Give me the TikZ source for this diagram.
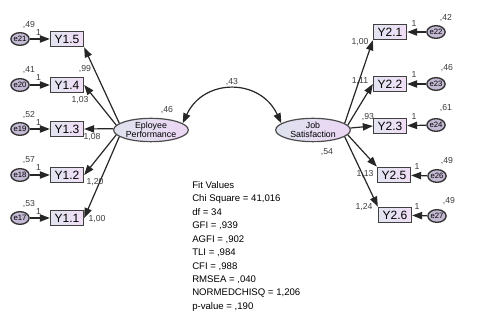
\documentclass[tikz,border=0pt]{standalone}
\usepackage{fontspec}
\setmainfont{Liberation Sans}
\usetikzlibrary{arrows.meta,shapes}

\definecolor{boxlft}{RGB}{226,228,240}
\definecolor{boxrgt}{RGB}{240,222,246}
\definecolor{latlft}{RGB}{222,226,238}
\definecolor{latrgt}{RGB}{236,214,244}
\definecolor{errfill}{RGB}{196,186,212}
\definecolor{numgray}{RGB}{60,60,60}

\begin{document}
\begin{tikzpicture}[x=0.75pt,y=0.75pt,font=\fontsize{9}{10}\selectfont]
\tikzstyle{arc}=[-{Triangle[length=7.5pt,width=5.5pt]},line width=0.9pt,black!85]
\tikzstyle{cov}=[{Triangle[length=7.5pt,width=5.5pt]}-{Triangle[length=7.5pt,width=5.5pt]},line width=0.9pt,black!85]
\tikzstyle{obs}=[rectangle,draw=black!75,line width=1pt,minimum width=24.75pt,minimum height=11.5pt,inner sep=0pt,left color=boxlft,right color=boxrgt]
\tikzstyle{lat}=[ellipse,draw=black!70,line width=0.9pt,minimum width=56pt,minimum height=17.5pt,inner sep=0pt,align=center,font=\fontsize{6.6}{6.8}\selectfont,left color=latlft,right color=latrgt]
\tikzstyle{err}=[ellipse,draw=black!80,line width=1pt,minimum width=13.5pt,minimum height=9.5pt,inner sep=0pt,fill=errfill,font=\fontsize{5.8}{6}\selectfont]
\tikzstyle{val}=[inner sep=0pt,font=\fontsize{6.5}{7}\selectfont,text=numgray]
\useasboundingbox (0,0) rectangle (481,-327);
%% TikZ-figure elements %%
\node[lat] at (151,-130) (EP) {Eployee\\Performance};
\node[lat] at (313,-130) (JS) {Job\\Satisfaction};
\node[obs] at (67,-39) (Y15) {Y1.5};
\node[obs] at (67,-85) (Y14) {Y1.4};
\node[obs] at (67,-129) (Y13) {Y1.3};
\node[obs] at (67,-175) (Y12) {Y1.2};
\node[obs] at (67,-218) (Y11) {Y1.1};
\node[err] at (20,-39) (e21) {e21};
\node[err] at (20,-85) (e20) {e20};
\node[err] at (20,-129) (e19) {e19};
\node[err] at (20,-175) (e18) {e18};
\node[err] at (20,-218) (e17) {e17};
\node[obs] at (390,-32) (Y21) {Y2.1};
\node[obs] at (390,-84) (Y22) {Y2.2};
\node[obs] at (390,-126) (Y23) {Y2.3};
\node[obs] at (394,-175) (Y25) {Y2.5};
\node[obs] at (395,-215) (Y26) {Y2.6};
\node[err] at (436,-32) (e22) {e22};
\node[err] at (436,-84) (e23) {e23};
\node[err] at (436,-125) (e24) {e24};
\node[err] at (437,-176) (e26) {e26};
\node[err] at (437,-216) (e27) {e27};
%% values %%
\node[val] at (29,-25) (v21) {,49};
\node[val] at (38.5,-32.5) (w21) {1};
\node[val] at (29,-70.5) (v20) {,41};
\node[val] at (38.5,-78) (w20) {1};
\node[val] at (29,-115) (v19) {,52};
\node[val] at (38.5,-122.5) (w19) {1};
\node[val] at (29,-160.5) (v18) {,57};
\node[val] at (38.5,-168) (w18) {1};
\node[val] at (29,-204) (v17) {,53};
\node[val] at (38.5,-211.5) (w17) {1};
\node[val] at (85,-69) (l14a) {,99};
\node[val] at (80,-100) (l14) {1,03};
\node[val] at (92,-137) (l13) {1,08};
\node[val] at (95,-182) (l12) {1,20};
\node[val] at (97,-219) (l11) {1,00};
\node[val] at (167,-110) (vEP) {,46};
\node[val] at (232,-82) (cEJ) {,43};
\node[val] at (327,-152) (vJS) {,54};
\node[val] at (360,-42) (l21) {1,00};
\node[val] at (360,-81) (l22) {1,11};
\node[val] at (368,-117) (l23) {,93};
\node[val] at (365,-174) (l25) {1,13};
\node[val] at (364,-207) (l26) {1,24};
\node[val] at (414,-24) (w22) {1};
\node[val] at (446,-18) (v22) {,42};
\node[val] at (414,-75) (w23) {1};
\node[val] at (447,-68) (v23) {,46};
\node[val] at (414,-117) (w24) {1};
\node[val] at (446,-108) (v24) {,61};
\node[val] at (417,-167) (w26) {1};
\node[val] at (447,-161) (v26) {,49};
\node[val] at (417,-207) (w27) {1};
\node[val] at (449,-201) (v27) {,49};
\node[anchor=north west,align=left,inner sep=0pt,font=\fontsize{7.2}{10.1}\selectfont] at (192,-181) (fit) {Fit Values\\Chi Square = 41,016\\df = 34\\GFI = ,939\\AGFI = ,902\\TLI = ,984\\CFI = ,988\\RMSEA = ,040\\NORMEDCHISQ = 1,206\\p-value = ,190};
%% arrows %%
\draw[arc] (e21) -- (Y15);
\draw[arc] (e20) -- (Y14);
\draw[arc] (e19) -- (Y13);
\draw[arc] (e18) -- (Y12);
\draw[arc] (e17) -- (Y11);
\draw[arc] (EP.168) -- (Y15.south east);
\draw[arc] (EP.172) -- (Y14.east);
\draw[arc] (EP.178) -- (Y13.east);
\draw[arc] (EP.188) -- (Y12.east);
\draw[arc] (EP.192) -- (Y11.east);
\draw[arc] (e22) -- (Y21);
\draw[arc] (e23) -- (Y22);
\draw[arc] (e24) -- (Y23);
\draw[arc] (e26) -- (Y25);
\draw[arc] (e27) -- (Y26);
\draw[arc] (JS.12) -- (Y21.south west);
\draw[arc] (JS.8) -- (Y22.west);
\draw[arc] (JS.3) -- (Y23.west);
\draw[arc] (JS.-8) -- (Y25.north west);
\draw[arc] (JS.-12) -- (Y26.north west);
\draw[cov] (EP.12) to[out=65,in=115,looseness=1.3] (JS.168);
\end{tikzpicture}
\end{document}
